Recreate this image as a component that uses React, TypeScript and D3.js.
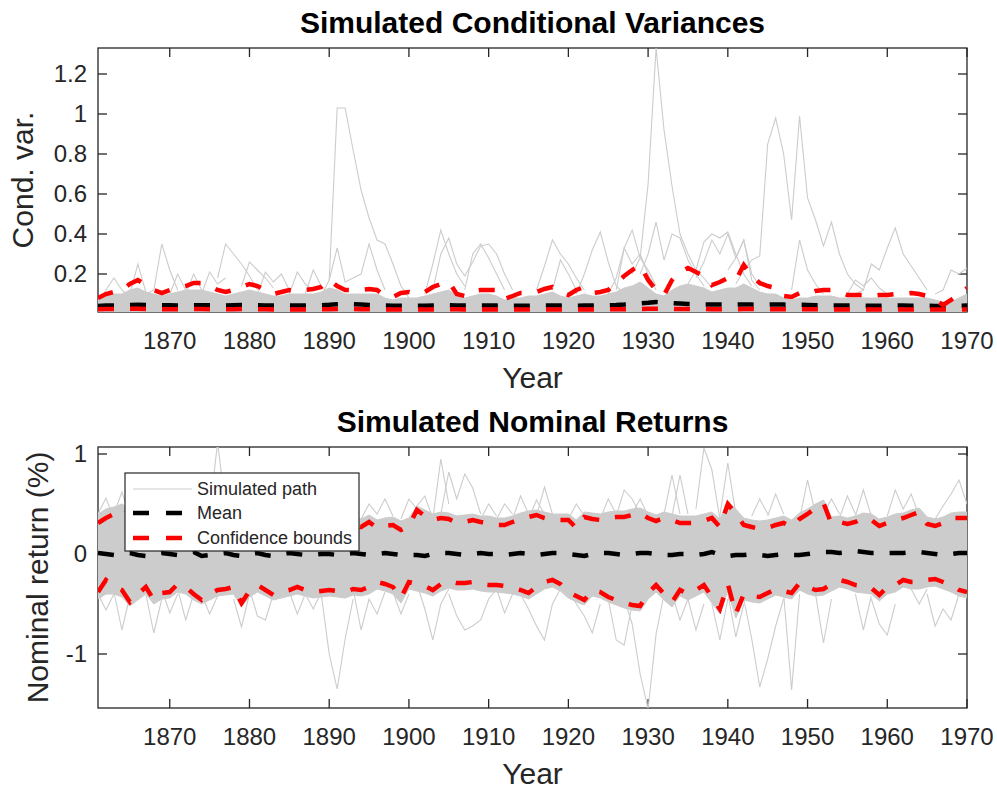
import React from 'react';
import * as d3 from 'd3';

// years 1861..1970, one value per year
const years = d3.range(1861, 1971);
const xTicks = [1870, 1880, 1890, 1900, 1910, 1920, 1930, 1940, 1950, 1960, 1970];

// ---- Simulated conditional variances ----
const condVarMean = [
  0.040, 0.042, 0.043, 0.044, 0.045, 0.046, 0.045, 0.044, 0.044, 0.044,
  0.043, 0.043, 0.044, 0.044, 0.044, 0.043, 0.043, 0.044, 0.045, 0.045,
  0.044, 0.043, 0.042, 0.042, 0.042, 0.042, 0.042, 0.043, 0.044, 0.046,
  0.049, 0.050, 0.049, 0.047, 0.045, 0.043, 0.042, 0.041, 0.041, 0.041,
  0.041, 0.041, 0.042, 0.043, 0.044, 0.043, 0.042, 0.042, 0.042, 0.042,
  0.042, 0.041, 0.041, 0.041, 0.041, 0.042, 0.042, 0.042, 0.042, 0.041,
  0.041, 0.042, 0.042, 0.043, 0.044, 0.045, 0.047, 0.050, 0.053, 0.056,
  0.060, 0.057, 0.054, 0.052, 0.050, 0.049, 0.048, 0.048, 0.047, 0.047,
  0.047, 0.048, 0.047, 0.046, 0.047, 0.048, 0.047, 0.046, 0.046, 0.045,
  0.044, 0.044, 0.043, 0.043, 0.042, 0.042, 0.042, 0.041, 0.041, 0.042,
  0.042, 0.042, 0.041, 0.041, 0.041, 0.040, 0.040, 0.040, 0.041, 0.042,
];
const condVarLower = [
  0.024, 0.025, 0.025, 0.025, 0.026, 0.026, 0.025, 0.025, 0.024, 0.024,
  0.024, 0.024, 0.025, 0.025, 0.024, 0.024, 0.024, 0.024, 0.025, 0.025,
  0.024, 0.024, 0.023, 0.023, 0.023, 0.023, 0.023, 0.023, 0.024, 0.024,
  0.025, 0.025, 0.025, 0.024, 0.024, 0.023, 0.023, 0.023, 0.023, 0.023,
  0.023, 0.023, 0.023, 0.024, 0.024, 0.024, 0.023, 0.023, 0.023, 0.023,
  0.023, 0.023, 0.023, 0.023, 0.023, 0.023, 0.023, 0.023, 0.023, 0.023,
  0.023, 0.023, 0.023, 0.023, 0.024, 0.024, 0.024, 0.025, 0.025, 0.026,
  0.026, 0.026, 0.025, 0.025, 0.025, 0.025, 0.025, 0.024, 0.024, 0.024,
  0.024, 0.025, 0.025, 0.024, 0.024, 0.024, 0.024, 0.024, 0.024, 0.024,
  0.024, 0.024, 0.023, 0.023, 0.023, 0.023, 0.023, 0.023, 0.023, 0.023,
  0.023, 0.023, 0.023, 0.023, 0.023, 0.023, 0.023, 0.023, 0.023, 0.023,
];
const condVarUpper = [
  0.08, 0.10, 0.11, 0.12, 0.15, 0.17, 0.145, 0.12, 0.105, 0.12,
  0.13, 0.14, 0.155, 0.155, 0.14, 0.12, 0.11, 0.12, 0.135, 0.15,
  0.14, 0.12, 0.10, 0.11, 0.12, 0.115, 0.12, 0.125, 0.135, 0.17,
  0.14, 0.12, 0.12, 0.12, 0.125, 0.12, 0.09, 0.085, 0.105, 0.11,
  0.10, 0.11, 0.135, 0.15, 0.16, 0.10, 0.09, 0.115, 0.12, 0.12,
  0.12, 0.075, 0.09, 0.105, 0.105, 0.11, 0.125, 0.135, 0.11, 0.095,
  0.12, 0.135, 0.105, 0.11, 0.12, 0.155, 0.19, 0.22, 0.245, 0.17,
  0.12, 0.095, 0.17, 0.21, 0.23, 0.21, 0.19, 0.145, 0.16, 0.18,
  0.17, 0.245, 0.19, 0.155, 0.14, 0.13, 0.09, 0.085, 0.105, 0.10,
  0.115, 0.12, 0.12, 0.11, 0.095, 0.095, 0.095, 0.09, 0.095, 0.095,
  0.10, 0.10, 0.105, 0.10, 0.09, 0.07, 0.045, 0.07, 0.10, 0.13,
];
// upper edge of the dense mass of simulated variance paths
const condVarBand = [
  0.07, 0.09, 0.10, 0.10, 0.12, 0.13, 0.11, 0.10, 0.09, 0.10,
  0.11, 0.12, 0.12, 0.12, 0.11, 0.10, 0.09, 0.10, 0.11, 0.12,
  0.11, 0.10, 0.09, 0.09, 0.10, 0.10, 0.10, 0.10, 0.11, 0.13,
  0.12, 0.10, 0.10, 0.10, 0.10, 0.10, 0.08, 0.07, 0.08, 0.08,
  0.08, 0.09, 0.10, 0.11, 0.12, 0.09, 0.08, 0.09, 0.10, 0.10,
  0.09, 0.07, 0.08, 0.08, 0.09, 0.09, 0.10, 0.11, 0.09, 0.08,
  0.09, 0.10, 0.09, 0.09, 0.10, 0.11, 0.13, 0.14, 0.16, 0.13,
  0.10, 0.09, 0.12, 0.14, 0.15, 0.14, 0.13, 0.11, 0.12, 0.13,
  0.13, 0.15, 0.13, 0.11, 0.10, 0.10, 0.08, 0.07, 0.08, 0.08,
  0.09, 0.09, 0.09, 0.08, 0.08, 0.08, 0.08, 0.08, 0.08, 0.08,
  0.08, 0.08, 0.08, 0.08, 0.08, 0.07, 0.06, 0.06, 0.08, 0.10,
];
// paths that leave the dense mass (start year + yearly values)
const condVarPaths = [
  { start: 1861, values: [0.06, 0.12, 0.18, 0.12, 0.08] },
  { start: 1865, values: [0.10, 0.25, 0.11] },
  { start: 1867, values: [0.10, 0.12, 0.35, 0.22, 0.12] },
  { start: 1870, values: [0.10, 0.20, 0.12] },
  { start: 1872, values: [0.10, 0.20, 0.12] },
  { start: 1874, values: [0.10, 0.21, 0.15, 0.18] },
  { start: 1876, values: [0.18, 0.35, 0.30, 0.25, 0.19, 0.12] },
  { start: 1879, values: [0.14, 0.26, 0.22, 0.18, 0.13] },
  { start: 1881, values: [0.10, 0.21, 0.16, 0.20, 0.12] },
  { start: 1885, values: [0.10, 0.21, 0.15, 0.12] },
  { start: 1887, values: [0.10, 0.22, 0.14] },
  { start: 1889, values: [0.09, 0.17, 1.03, 1.03, 0.82, 0.62, 0.48, 0.37, 0.35, 0.25, 0.14, 0.08] },
  { start: 1890, values: [0.17, 0.33, 0.16, 0.18, 0.20, 0.35, 0.22, 0.12] },
  { start: 1902, values: [0.10, 0.25, 0.42, 0.30, 0.20, 0.14] },
  { start: 1903, values: [0.12, 0.30, 0.38, 0.25, 0.19, 0.26, 0.34, 0.35, 0.30, 0.20, 0.12] },
  { start: 1907, values: [0.12, 0.30, 0.35, 0.28, 0.20, 0.12] },
  { start: 1916, values: [0.12, 0.24, 0.37, 0.30, 0.25, 0.18, 0.12] },
  { start: 1918, values: [0.12, 0.27, 0.20, 0.12] },
  { start: 1921, values: [0.10, 0.20, 0.32, 0.41, 0.26, 0.14, 0.10] },
  { start: 1925, values: [0.10, 0.18, 0.33, 0.42, 0.28, 0.22, 0.14] },
  { start: 1926, values: [0.12, 0.33, 0.25, 0.30, 0.20, 0.12] },
  { start: 1928, values: [0.20, 0.28, 0.65, 1.33, 0.92, 0.64, 0.40, 0.30, 0.22, 0.18, 0.13] },
  { start: 1929, values: [0.20, 0.30, 0.46, 0.27, 0.40, 0.38, 0.27, 0.20, 0.14] },
  { start: 1935, values: [0.15, 0.22, 0.36, 0.40, 0.38, 0.41, 0.30, 0.20, 0.14] },
  { start: 1936, values: [0.18, 0.26, 0.37, 0.30, 0.40, 0.28, 0.37, 0.17, 0.12] },
  { start: 1940, values: [0.22, 0.28, 0.37, 0.20, 0.14] },
  { start: 1941, values: [0.15, 0.22, 0.27, 0.29, 0.85, 0.98, 0.80, 0.47, 0.99, 0.58, 0.47, 0.34, 0.46, 0.30, 0.20, 0.15, 0.12] },
  { start: 1948, values: [0.12, 0.37, 0.22, 0.15, 0.10] },
  { start: 1955, values: [0.10, 0.17, 0.14, 0.18, 0.13, 0.10] },
  { start: 1956, values: [0.10, 0.12, 0.25, 0.22, 0.33, 0.43, 0.30, 0.24, 0.18, 0.12] },
  { start: 1966, values: [0.10, 0.12, 0.22, 0.20, 0.23] },
];

// ---- Simulated nominal returns ----
const retMean = [
  0.01, 0.00, -0.01, 0.00, 0.01, -0.01, -0.02, 0.00, 0.01, 0.00,
  -0.01, 0.01, 0.02, -0.02, -0.01, 0.00, 0.01, -0.01, -0.02, 0.00,
  0.01, -0.01, -0.02, 0.00, 0.01, 0.00, -0.01, -0.01, 0.00, 0.00,
  -0.01, 0.00, 0.01, 0.00, -0.01, 0.00, 0.01, 0.00, -0.01, -0.01,
  -0.01, -0.02, 0.00, 0.01, 0.01, 0.00, -0.01, 0.00, 0.01, 0.00,
  0.00, -0.01, 0.00, 0.01, 0.00, -0.01, 0.00, 0.01, 0.01, 0.00,
  -0.01, -0.02, 0.00, 0.01, 0.01, 0.00, -0.01, 0.00, 0.01, 0.01,
  0.00, -0.01, -0.01, 0.00, 0.00, -0.01, 0.00, 0.02, -0.01, -0.02,
  -0.01, -0.01, 0.00, -0.01, -0.02, -0.01, 0.00, -0.01, -0.01, 0.00,
  0.01, 0.02, 0.02, 0.01, 0.02, 0.03, 0.02, 0.01, 0.01, 0.01,
  0.01, 0.01, 0.02, 0.02, 0.01, 0.00, -0.01, 0.00, 0.01, 0.01,
];
const retUpper = [
  0.31, 0.36, 0.40, 0.46, 0.42, 0.36, 0.33, 0.35, 0.38, 0.34,
  0.31, 0.35, 0.40, 0.36, 0.32, 0.34, 0.38, 0.35, 0.31, 0.33,
  0.37, 0.34, 0.30, 0.33, 0.36, 0.34, 0.31, 0.34, 0.38, 0.35,
  0.32, 0.34, 0.30, 0.27, 0.32, 0.26, 0.28, 0.29, 0.24, 0.28,
  0.44, 0.38, 0.34, 0.36, 0.35, 0.31, 0.32, 0.34, 0.32, 0.31,
  0.29, 0.29, 0.32, 0.35, 0.37, 0.39, 0.36, 0.34, 0.34, 0.34,
  0.26, 0.37, 0.35, 0.34, 0.36, 0.37, 0.37, 0.39, 0.41, 0.36,
  0.33, 0.36, 0.34, 0.31, 0.31, 0.31, 0.33, 0.36, 0.27, 0.50,
  0.40, 0.29, 0.27, 0.25, 0.26, 0.29, 0.31, 0.27, 0.35, 0.40,
  0.46, 0.51, 0.30, 0.32, 0.30, 0.32, 0.36, 0.34, 0.28, 0.31,
  0.34, 0.36, 0.39, 0.42, 0.30, 0.28, 0.31, 0.36, 0.36, 0.36,
];
const retLower = [
  -0.38, -0.26, -0.32, -0.36, -0.48, -0.40, -0.33, -0.46, -0.39, -0.38,
  -0.30, -0.33, -0.40, -0.46, -0.40, -0.36, -0.35, -0.33, -0.49, -0.37,
  -0.31, -0.36, -0.41, -0.38, -0.36, -0.33, -0.36, -0.38, -0.37, -0.36,
  -0.37, -0.38, -0.35, -0.36, -0.33, -0.28, -0.30, -0.33, -0.44, -0.28,
  -0.30, -0.32, -0.36, -0.30, -0.27, -0.29, -0.29, -0.28, -0.30, -0.31,
  -0.31, -0.32, -0.34, -0.36, -0.39, -0.33, -0.28, -0.26, -0.30, -0.38,
  -0.42, -0.46, -0.36, -0.38, -0.43, -0.46, -0.49, -0.51, -0.52, -0.39,
  -0.31, -0.40, -0.48, -0.36, -0.40, -0.36, -0.31, -0.43, -0.55, -0.30,
  -0.60, -0.40, -0.42, -0.43, -0.39, -0.35, -0.37, -0.39, -0.29, -0.33,
  -0.36, -0.35, -0.30, -0.26, -0.28, -0.31, -0.32, -0.34, -0.41, -0.33,
  -0.31, -0.26, -0.28, -0.28, -0.26, -0.25, -0.28, -0.31, -0.36, -0.38,
];
// edges of the dense mass of simulated return paths
const retBandHi = [
  0.40, 0.45, 0.47, 0.50, 0.45, 0.42, 0.40, 0.42, 0.44, 0.40,
  0.38, 0.42, 0.45, 0.42, 0.40, 0.42, 0.44, 0.41, 0.38, 0.40,
  0.43, 0.40, 0.37, 0.40, 0.42, 0.41, 0.38, 0.41, 0.44, 0.41,
  0.39, 0.41, 0.37, 0.35, 0.39, 0.34, 0.36, 0.37, 0.33, 0.36,
  0.48, 0.44, 0.40, 0.42, 0.41, 0.38, 0.39, 0.40, 0.38, 0.38,
  0.36, 0.36, 0.38, 0.41, 0.43, 0.44, 0.42, 0.40, 0.40, 0.40,
  0.34, 0.42, 0.41, 0.40, 0.42, 0.43, 0.43, 0.45, 0.46, 0.42,
  0.39, 0.42, 0.40, 0.38, 0.38, 0.38, 0.40, 0.42, 0.35, 0.53,
  0.45, 0.36, 0.34, 0.33, 0.34, 0.36, 0.38, 0.34, 0.41, 0.45,
  0.50, 0.54, 0.37, 0.38, 0.36, 0.38, 0.41, 0.40, 0.35, 0.37,
  0.40, 0.41, 0.44, 0.46, 0.37, 0.35, 0.37, 0.41, 0.42, 0.42,
];
const retBandLo = [
  -0.45, -0.40, -0.40, -0.43, -0.52, -0.46, -0.40, -0.50, -0.45, -0.44,
  -0.38, -0.40, -0.46, -0.50, -0.46, -0.42, -0.41, -0.40, -0.53, -0.43,
  -0.38, -0.42, -0.46, -0.44, -0.42, -0.40, -0.42, -0.44, -0.43, -0.42,
  -0.43, -0.44, -0.41, -0.42, -0.40, -0.35, -0.37, -0.40, -0.49, -0.35,
  -0.37, -0.39, -0.42, -0.37, -0.34, -0.36, -0.36, -0.35, -0.37, -0.38,
  -0.38, -0.39, -0.40, -0.42, -0.45, -0.40, -0.35, -0.33, -0.37, -0.44,
  -0.48, -0.51, -0.42, -0.44, -0.48, -0.51, -0.54, -0.56, -0.57, -0.45,
  -0.38, -0.46, -0.53, -0.42, -0.46, -0.42, -0.38, -0.49, -0.60, -0.37,
  -0.64, -0.46, -0.48, -0.49, -0.45, -0.41, -0.43, -0.45, -0.36, -0.40,
  -0.42, -0.41, -0.37, -0.33, -0.35, -0.38, -0.39, -0.40, -0.47, -0.40,
  -0.38, -0.33, -0.35, -0.35, -0.33, -0.32, -0.35, -0.38, -0.42, -0.44,
];
const retPaths = [
  { start: 1861, values: [0.40, 0.56, 0.35] },
  { start: 1863, values: [0.40, 0.62, 0.38] },
  { start: 1875, values: [0.40, 1.12, 0.45] },
  { start: 1894, values: [0.35, 0.50, 0.40, 0.55, 0.38] },
  { start: 1899, values: [0.35, 0.55, 0.45, 0.30] },
  { start: 1900, values: [0.30, 0.48, 0.58, 0.35] },
  { start: 1903, values: [0.35, 0.95, 0.50] },
  { start: 1904, values: [0.40, 0.82, 0.55, 0.80, 0.66, 0.40] },
  { start: 1909, values: [0.35, 0.50, 0.38] },
  { start: 1911, values: [0.35, 0.50, 0.40] },
  { start: 1913, values: [0.35, 0.58, 0.40] },
  { start: 1915, values: [0.35, 0.54, 0.40] },
  { start: 1916, values: [0.38, 0.67, 0.40] },
  { start: 1920, values: [0.35, 0.50, 0.38] },
  { start: 1924, values: [0.35, 0.55, 0.40] },
  { start: 1926, values: [0.38, 0.64, 0.55, 0.40] },
  { start: 1928, values: [0.40, 0.55, 0.38] },
  { start: 1932, values: [0.40, 0.79, 0.40] },
  { start: 1933, values: [0.38, 0.79, 0.40] },
  { start: 1936, values: [0.45, 1.06, 0.84, 0.35] },
  { start: 1939, values: [0.38, 0.91, 0.40] },
  { start: 1943, values: [0.38, 0.55, 0.40] },
  { start: 1945, values: [0.38, 0.60, 0.40] },
  { start: 1949, values: [0.35, 0.74, 0.40] },
  { start: 1952, values: [0.40, 0.55, 0.40] },
  { start: 1954, values: [0.36, 0.58, 0.40] },
  { start: 1956, values: [0.38, 0.64, 0.38] },
  { start: 1960, values: [0.38, 0.64, 0.45, 0.60, 0.38] },
  { start: 1966, values: [0.35, 0.48, 0.60, 0.74, 0.50] },
  { start: 1861, values: [-0.40, -0.56, -0.40] },
  { start: 1863, values: [-0.38, -0.76, -0.42] },
  { start: 1867, values: [-0.40, -0.79, -0.45] },
  { start: 1869, values: [-0.35, -0.59, -0.40] },
  { start: 1871, values: [-0.35, -0.66, -0.40] },
  { start: 1874, values: [-0.40, -0.60, -0.42] },
  { start: 1878, values: [-0.45, -0.73, -0.40] },
  { start: 1880, values: [-0.35, -0.62, -0.66, -0.40] },
  { start: 1885, values: [-0.38, -0.60, -0.40] },
  { start: 1887, values: [-0.40, -0.55, -0.38] },
  { start: 1889, values: [-0.40, -1.00, -1.35, -0.85, -0.45] },
  { start: 1893, values: [-0.35, -0.76, -0.45, -0.60, -0.38] },
  { start: 1898, values: [-0.38, -0.60, -0.40] },
  { start: 1901, values: [-0.30, -0.55, -0.86, -0.50, -0.35] },
  { start: 1905, values: [-0.40, -0.62, -0.76, -0.72, -0.66, -0.45, -0.35] },
  { start: 1911, values: [-0.35, -0.59, -0.40] },
  { start: 1914, values: [-0.40, -0.55, -0.72, -0.86, -0.50, -0.35] },
  { start: 1920, values: [-0.35, -0.50, -0.62, -0.79, -0.50] },
  { start: 1925, values: [-0.45, -0.86, -0.91, -0.50] },
  { start: 1927, values: [-0.45, -0.70, -1.20, -1.55, -0.80, -0.40] },
  { start: 1933, values: [-0.40, -0.66, -0.45] },
  { start: 1935, values: [-0.45, -0.76, -0.50] },
  { start: 1938, values: [-0.50, -0.86, -0.45] },
  { start: 1940, values: [-0.40, -0.83, -0.50] },
  { start: 1942, values: [-0.45, -0.85, -1.33, -1.05, -0.72, -0.45] },
  { start: 1947, values: [-0.40, -1.36, -0.40] },
  { start: 1951, values: [-0.40, -0.89, -0.45] },
  { start: 1956, values: [-0.40, -0.76, -0.42] },
  { start: 1958, values: [-0.45, -0.70, -0.81, -0.50] },
  { start: 1963, values: [-0.35, -0.50, -0.35] },
  { start: 1965, values: [-0.40, -0.72, -0.55, -0.66, -0.40] },
];

const legendItems = ['Simulated path', 'Mean', 'Confidence bounds'];

const FONT = '"Liberation Sans", Arial, Helvetica, sans-serif';
const AX = '#262626';
const GRAY = '#cccccc';
const X0 = 98;
const X1 = 967;
const x = d3.scaleLinear().domain([1861, 1970]).range([X0, X1]);

interface PanelProps {
  id: string;
  top: number;
  bottom: number;
  yDomain: [number, number];
  yTicks: number[];
  title: string;
  ylabel: string;
  ylabelX: number;
  bandHi: number[];
  bandLo?: number[];
  paths: { start: number; values: number[] }[];
  mean: number[];
  lower: number[];
  upper: number[];
  children?: React.ReactNode;
}

const Panel: React.FC<PanelProps> = (p) => {
  const y = d3.scaleLinear().domain(p.yDomain).range([p.bottom, p.top]);
  const line = d3.line<number>().x((_, i) => x(years[i])).y(d => y(d));
  const area = d3.area<number>()
    .x((_, i) => x(years[i]))
    .y0((_, i) => y(p.bandLo ? p.bandLo[i] : p.yDomain[0]))
    .y1(d => y(d));
  const seg = (s: { start: number; values: number[] }) =>
    d3.line<number>().x((_, i) => x(s.start + i)).y(d => y(d))(s.values) || '';
  const tl = 9;
  const midX = (X0 + X1) / 2;
  const midY = (p.top + p.bottom) / 2;

  return (
    <g>
      <defs>
        <clipPath id={p.id}>
          <rect x={X0} y={p.top} width={X1 - X0} height={p.bottom - p.top} />
        </clipPath>
      </defs>
      <rect x={X0} y={p.top} width={X1 - X0} height={p.bottom - p.top} fill="#fff" stroke={AX} strokeWidth={1.3} />
      {/* tick marks, all four sides */}
      {xTicks.map(t => (
        <g key={'xt' + t} stroke={AX} strokeWidth={1.3}>
          <line x1={x(t)} x2={x(t)} y1={p.bottom} y2={p.bottom - tl} />
          <line x1={x(t)} x2={x(t)} y1={p.top} y2={p.top + tl} />
        </g>
      ))}
      {p.yTicks.map(t => (
        <g key={'yt' + t} stroke={AX} strokeWidth={1.3}>
          <line x1={X0} x2={X0 + tl} y1={y(t)} y2={y(t)} />
          <line x1={X1} x2={X1 - tl} y1={y(t)} y2={y(t)} />
        </g>
      ))}
      <g clipPath={`url(#${p.id})`}>
        <path d={area(p.bandHi) || ''} fill={GRAY} stroke={GRAY} strokeWidth={1} />
        {p.paths.map((s, i) => (
          <path key={i} d={seg(s)} fill="none" stroke={GRAY} strokeWidth={1.1} />
        ))}
        <path d={line(p.mean) || ''} fill="none" stroke="#000" strokeWidth={4.5} strokeDasharray="16,16" />
        <path d={line(p.lower) || ''} fill="none" stroke="#ff0000" strokeWidth={4.5} strokeDasharray="16,16" />
        <path d={line(p.upper) || ''} fill="none" stroke="#ff0000" strokeWidth={4.5} strokeDasharray="16,16" />
      </g>
      {/* tick labels */}
      {xTicks.map(t => (
        <text key={'xl' + t} x={x(t)} y={p.bottom + 37} textAnchor="middle" fontSize={24} fill={AX}>{t}</text>
      ))}
      {p.yTicks.map(t => (
        <text key={'yl' + t} x={X0 - 11} y={y(t)} dy="0.35em" textAnchor="end" fontSize={24} fill={AX}>
          {d3.format('~g')(t).replace('\u2212', '-')}
        </text>
      ))}
      <text x={midX} y={p.bottom + 76} textAnchor="middle" fontSize={30} fill={AX}>Year</text>
      <text transform={`translate(${p.ylabelX},${midY}) rotate(-90)`} textAnchor="middle" fontSize={30} fill={AX}>{p.ylabel}</text>
      <text x={midX} y={p.top - 15} textAnchor="middle" fontSize={30} fontWeight="bold" fill="#000">{p.title}</text>
      {p.children}
    </g>
  );
};

const Legend: React.FC = () => {
  const lx = 125, ly = 473, rows = [489, 513, 538];
  const styles = [
    { stroke: GRAY, width: 1.2, dash: undefined as string | undefined },
    { stroke: '#000', width: 4.5, dash: '16,17' },
    { stroke: '#ff0000', width: 4.5, dash: '16,17' },
  ];
  return (
    <g>
      <rect x={lx} y={ly} width={234} height={78} fill="#fff" stroke={AX} strokeWidth={1.2} />
      {legendItems.map((name, i) => (
        <g key={name}>
          <line x1={133} x2={192} y1={rows[i]} y2={rows[i]} stroke={styles[i].stroke}
            strokeWidth={styles[i].width} strokeDasharray={styles[i].dash} />
          <text x={197} y={rows[i]} dy="0.35em" fontSize={18} fill={AX}>{name}</text>
        </g>
      ))}
    </g>
  );
};

export default function App() {
  return (
    <svg width={997} height={793} style={{ position: 'absolute', left: 0, top: 0, background: '#fff' }}
      fontFamily={FONT}>
      <Panel id="clipVar" top={48} bottom={312} yDomain={[0.01, 1.33]}
        yTicks={[0.2, 0.4, 0.6, 0.8, 1, 1.2]}
        title="Simulated Conditional Variances" ylabel="Cond. var." ylabelX={33}
        bandHi={condVarBand} paths={condVarPaths}
        mean={condVarMean} lower={condVarLower} upper={condVarUpper} />
      <Panel id="clipRet" top={447} bottom={708} yDomain={[-1.54, 1.07]}
        yTicks={[-1, 0, 1]}
        title="Simulated Nominal Returns" ylabel="Nominal return (%)" ylabelX={48}
        bandHi={retBandHi} bandLo={retBandLo} paths={retPaths}
        mean={retMean} lower={retLower} upper={retUpper}>
        <Legend />
      </Panel>
    </svg>
  );
}
